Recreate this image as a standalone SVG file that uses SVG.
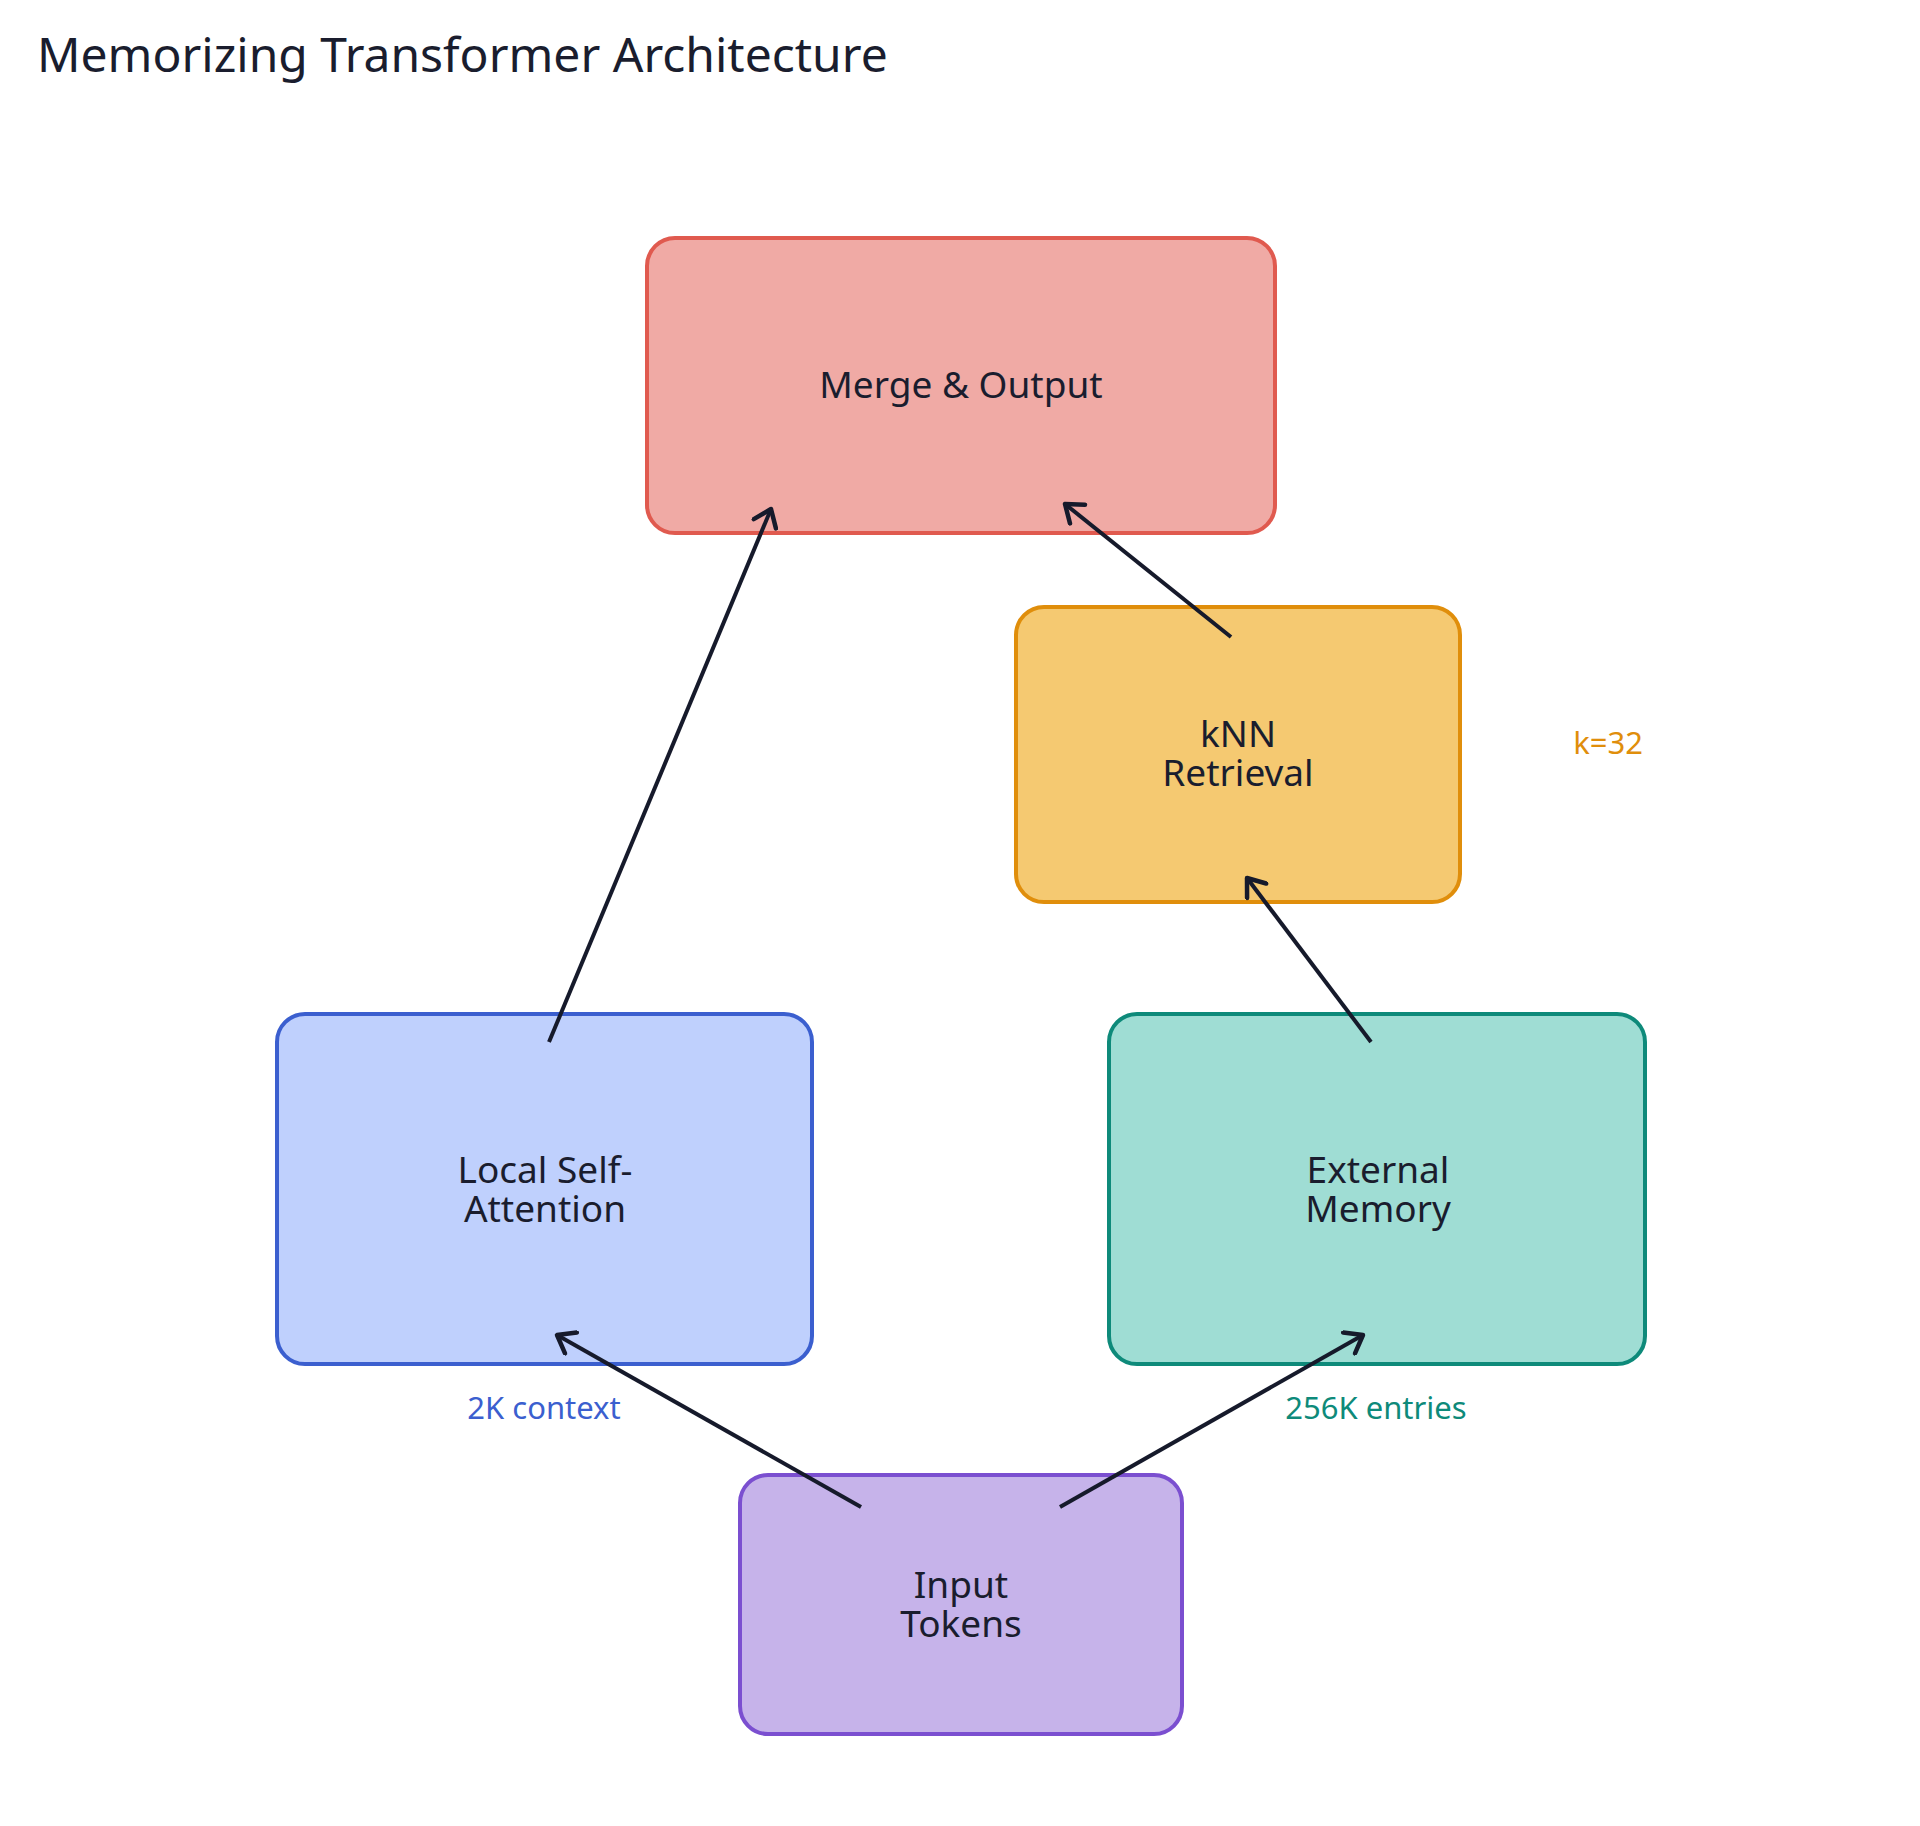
<svg xmlns="http://www.w3.org/2000/svg" width="1920" height="1826" viewBox="0 0 1920 1826">
<style>
text{font-family:"Noto Sans",sans-serif;fill:#1a1d2e;text-anchor:middle}
.n{font-size:37px}
.l{font-size:31px}
rect{stroke-width:4}
.c{stroke:#161a2b;stroke-width:4;fill:none;marker-end:url(#a)}
</style>
<defs><marker id="a" markerWidth="24" markerHeight="28" refX="20" refY="14" orient="auto" markerUnits="userSpaceOnUse" viewBox="0 0 24 28"><path d="M4,2 L20,14 L4,26" fill="none" stroke="#161a2b" stroke-width="4.5" stroke-linecap="round" stroke-linejoin="round"/></marker></defs>
<rect width="1920" height="1826" fill="#fff" style="stroke:none"/>
<text x="37" y="72" style="font-size:48px;text-anchor:start">Memorizing Transformer Architecture</text>
<g id="merge"><rect x="647" y="238" width="628" height="295" rx="28" fill="#f0aaa5" stroke="#e05a4f"/><text class="n" x="961" y="398">Merge &amp; Output</text></g>
<g id="knn"><rect x="1016" y="607" width="444" height="295" rx="28" fill="#f5c971" stroke="#e08e0b"/><text class="n" x="1238" y="747">kNN</text><text class="n" x="1238" y="786">Retrieval</text></g>
<g id="local"><rect x="277" y="1014" width="535" height="350" rx="28" fill="#bfd0fd" stroke="#3b5fcf"/><text class="n" x="545" y="1183">Local Self-</text><text class="n" x="545" y="1222">Attention</text></g>
<g id="external"><rect x="1109" y="1014" width="536" height="350" rx="28" fill="#9fddd4" stroke="#0e8a7a"/><text class="n" x="1378" y="1183">External</text><text class="n" x="1378" y="1222">Memory</text></g>
<g id="input"><rect x="740" y="1475" width="442" height="259" rx="28" fill="#c6b3ea" stroke="#7b4fd0"/><text class="n" x="961" y="1598">Input</text><text class="n" x="961" y="1637">Tokens</text></g>
<g id="connectors">
<line class="c" x1="549" y1="1042" x2="771" y2="509"/>
<line class="c" x1="1231" y1="637" x2="1065" y2="504"/>
<line class="c" x1="1371" y1="1042" x2="1247" y2="878"/>
<line class="c" x1="861" y1="1507" x2="557" y2="1335"/>
<line class="c" x1="1060" y1="1507" x2="1363" y2="1335"/>
<text class="l" x="544" y="1419" style="fill:#3b5fcf">2K context</text>
<text class="l" x="1376" y="1419" style="fill:#0e8a7a">256K entries</text>
<text class="l" x="1608" y="754" style="fill:#e08e0b">k=32</text>
</g>
</svg>
